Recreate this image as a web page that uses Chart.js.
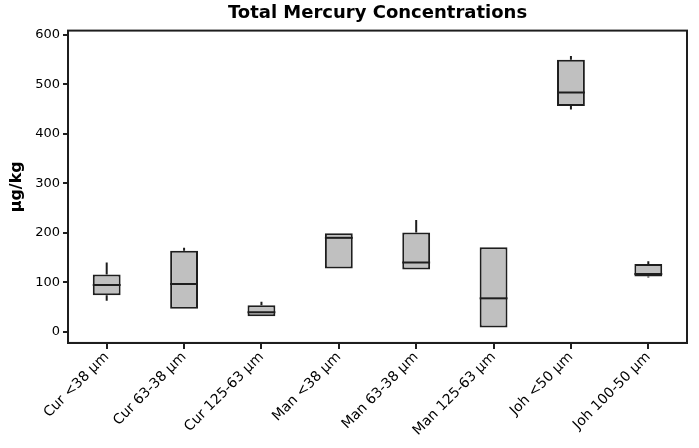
<!DOCTYPE html>
<html>
<head>
<meta charset="utf-8">
<script src="https://cdn.jsdelivr.net/npm/chart.js@4"></script>
<style>
    body { margin: 0; background: #fff; }
    #wrap { width: 699px; height: 448px; }
</style>
</head>
<body>
<div id="wrap"><canvas id="chart"></canvas></div>
<script>
// box plot values (µg/kg)
var categories = ["Cur <38 µm", "Cur 63-38 µm", "Cur 125-63 µm", "Man <38 µm",
    "Man 63-38 µm", "Man 125-63 µm", "Joh <50 µm", "Joh 100-50 µm"];
var mins = [63, 47, 32, 128, 126, 9, 449, 110];
var q1s = [74, 47, 32, 128, 126, 9, 456, 112];
var medians = [95, 97, 40, 190, 140, 68, 483, 117];
var q3s = [116, 164, 54, 199, 201, 171, 549, 137];
var maxs = [140, 170, 61, 199, 226, 171, 557, 143];
var yTicks = [0, 100, 200, 300, 400, 500, 600];

var ink = "#1e1e1e";

// whiskers, medians and the frame round the plot
var boxPlugin = {
    id: "boxParts",
    afterDatasetsDraw: function (chart) {
        var ctx = chart.ctx;
        var y = chart.scales.y;
        var meta = chart.getDatasetMeta(0);
        ctx.save();
        ctx.strokeStyle = ink;
        ctx.lineWidth = 2;
        meta.data.forEach(function (bar, i) {
            var x = bar.x;
            var half = bar.width / 2;
            ctx.beginPath();
            ctx.moveTo(x, y.getPixelForValue(q3s[i]));
            ctx.lineTo(x, y.getPixelForValue(maxs[i]));
            ctx.moveTo(x, y.getPixelForValue(q1s[i]));
            ctx.lineTo(x, y.getPixelForValue(mins[i]));
            ctx.moveTo(x - half, y.getPixelForValue(medians[i]));
            ctx.lineTo(x + half, y.getPixelForValue(medians[i]));
            ctx.stroke();
        });
        var a = chart.chartArea;
        ctx.strokeRect(a.left, a.top, a.right - a.left, a.bottom - a.top);
        ctx.restore();
    }
};

var boxes = categories.map(function (c, i) {
    return [q1s[i], q3s[i]];
});

new Chart(document.getElementById("chart"), {
    type: "bar",
    data: {
        labels: categories,
        datasets: [{
                data: boxes,
                backgroundColor: "#c0c0c0",
                borderColor: ink,
                borderWidth: 2,
                borderSkipped: false,
                barPercentage: 0.36,
                categoryPercentage: 1
            }]
    },
    options: {
        responsive: true,
        maintainAspectRatio: false,
        animation: false,
        layout: {padding: {top: 3, right: 12, left: 7, bottom: 9}},
        plugins: {
            legend: {display: false},
            tooltip: {enabled: false},
            title: {
                display: true,
                fullSize: false,
                text: "Total Mercury Concentrations",
                color: "#000",
                font: {family: "DejaVu Sans", size: 18, weight: "bold"},
                padding: {top: 0, bottom: 6}
            }
        },
        scales: {
            x: {
                grid: {offset: false, drawOnChartArea: false, drawTicks: true, tickLength: 6, color: ink, lineWidth: 2},
                border: {color: ink, width: 2},
                ticks: {
                    color: "#000",
                    minRotation: 45,
                    maxRotation: 45,
                    padding: 0,
                    font: {family: "DejaVu Sans", size: 14}
                }
            },
            y: {
                min: -22,
                max: 608,
                afterBuildTicks: function (axis) {
                    axis.ticks = yTicks.map(function (v) {
                        return {value: v};
                    });
                },
                grid: {drawOnChartArea: false, drawTicks: true, tickLength: 5, color: ink, lineWidth: 2},
                border: {color: ink, width: 2},
                ticks: {
                    color: "#000",
                    padding: 3,
                    font: {family: "DejaVu Sans", size: 13}
                },
                title: {
                    display: true,
                    text: "µg/kg",
                    color: "#000",
                    font: {family: "DejaVu Sans", size: 16, weight: "bold"},
                    padding: {top: 0, bottom: 6}
                }
            }
        }
    },
    plugins: [boxPlugin]
});
</script>
</body>
</html>
